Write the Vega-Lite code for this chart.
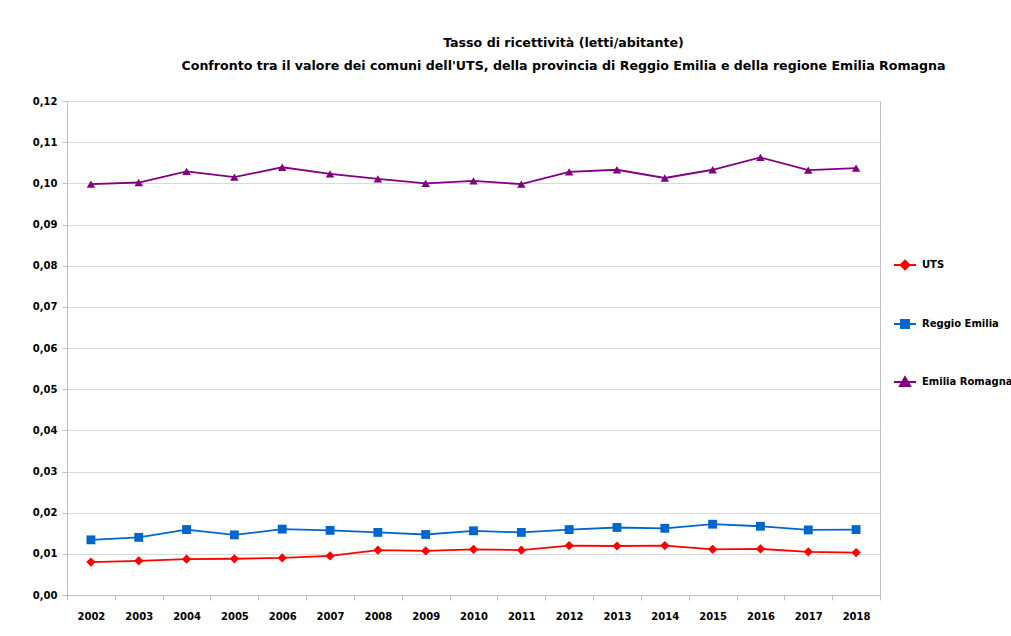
{
  "$schema": "https://vega.github.io/schema/vega-lite/v6.json",
  "autosize": {"type": "none"},
  "width": 813,
  "height": 494,
  "padding": {"left": 67, "top": 101, "right": 131, "bottom": 41},
  "background": "white",
  "config": {
    "font": "DejaVu Sans",
    "view": {"stroke": "#bfbfbf", "strokeWidth": 1},
    "legend": {
      "orient": "none",
      "legendX": 826,
      "legendY": 152,
      "labelFont": "DejaVu Sans",
      "labelFontSize": 10,
      "labelFontWeight": "bold",
      "labelColor": "#000000",
      "labelOffset": 5,
      "symbolSize": 484,
      "symbolStrokeWidth": 2,
      "rowPadding": 38
    }
  },
  "title": {
    "text": ["Tasso di ricettività (letti/abitante)", "Confronto tra il valore dei comuni dell'UTS, della provincia di Reggio Emilia e della regione Emilia Romagna"],
    "font": "DejaVu Sans",
    "fontSize": 12.6,
    "fontWeight": "bold",
    "color": "#000000",
    "anchor": "middle",
    "frame": "group",
    "dx": 90,
    "offset": 23,
    "lineHeight": 23
  },
  "data": {
    "values": [
      {"year": "2002", "serie": "UTS", "value": 0.0080},
      {"year": "2003", "serie": "UTS", "value": 0.0083},
      {"year": "2004", "serie": "UTS", "value": 0.0087},
      {"year": "2005", "serie": "UTS", "value": 0.0088},
      {"year": "2006", "serie": "UTS", "value": 0.0090},
      {"year": "2007", "serie": "UTS", "value": 0.0095},
      {"year": "2008", "serie": "UTS", "value": 0.0109},
      {"year": "2009", "serie": "UTS", "value": 0.0107},
      {"year": "2010", "serie": "UTS", "value": 0.0111},
      {"year": "2011", "serie": "UTS", "value": 0.0109},
      {"year": "2012", "serie": "UTS", "value": 0.0120},
      {"year": "2013", "serie": "UTS", "value": 0.0119},
      {"year": "2014", "serie": "UTS", "value": 0.0120},
      {"year": "2015", "serie": "UTS", "value": 0.0111},
      {"year": "2016", "serie": "UTS", "value": 0.0112},
      {"year": "2017", "serie": "UTS", "value": 0.0105},
      {"year": "2018", "serie": "UTS", "value": 0.0103},
      {"year": "2002", "serie": "Reggio Emilia", "value": 0.0134},
      {"year": "2003", "serie": "Reggio Emilia", "value": 0.0140},
      {"year": "2004", "serie": "Reggio Emilia", "value": 0.0159},
      {"year": "2005", "serie": "Reggio Emilia", "value": 0.0146},
      {"year": "2006", "serie": "Reggio Emilia", "value": 0.0160},
      {"year": "2007", "serie": "Reggio Emilia", "value": 0.0157},
      {"year": "2008", "serie": "Reggio Emilia", "value": 0.0152},
      {"year": "2009", "serie": "Reggio Emilia", "value": 0.0147},
      {"year": "2010", "serie": "Reggio Emilia", "value": 0.0156},
      {"year": "2011", "serie": "Reggio Emilia", "value": 0.0152},
      {"year": "2012", "serie": "Reggio Emilia", "value": 0.0159},
      {"year": "2013", "serie": "Reggio Emilia", "value": 0.0164},
      {"year": "2014", "serie": "Reggio Emilia", "value": 0.0162},
      {"year": "2015", "serie": "Reggio Emilia", "value": 0.0172},
      {"year": "2016", "serie": "Reggio Emilia", "value": 0.0167},
      {"year": "2017", "serie": "Reggio Emilia", "value": 0.0158},
      {"year": "2018", "serie": "Reggio Emilia", "value": 0.0159},
      {"year": "2002", "serie": "Emilia Romagna", "value": 0.0998},
      {"year": "2003", "serie": "Emilia Romagna", "value": 0.1002},
      {"year": "2004", "serie": "Emilia Romagna", "value": 0.1029},
      {"year": "2005", "serie": "Emilia Romagna", "value": 0.1015},
      {"year": "2006", "serie": "Emilia Romagna", "value": 0.1039},
      {"year": "2007", "serie": "Emilia Romagna", "value": 0.1023},
      {"year": "2008", "serie": "Emilia Romagna", "value": 0.1011},
      {"year": "2009", "serie": "Emilia Romagna", "value": 0.1000},
      {"year": "2010", "serie": "Emilia Romagna", "value": 0.1006},
      {"year": "2011", "serie": "Emilia Romagna", "value": 0.0998},
      {"year": "2012", "serie": "Emilia Romagna", "value": 0.1028},
      {"year": "2013", "serie": "Emilia Romagna", "value": 0.1033},
      {"year": "2014", "serie": "Emilia Romagna", "value": 0.1013},
      {"year": "2015", "serie": "Emilia Romagna", "value": 0.1033},
      {"year": "2016", "serie": "Emilia Romagna", "value": 0.1063},
      {"year": "2017", "serie": "Emilia Romagna", "value": 0.1032},
      {"year": "2018", "serie": "Emilia Romagna", "value": 0.1037}
    ]
  },
  "encoding": {
    "x": {
      "field": "year",
      "type": "ordinal",
      "scale": {"type": "band", "paddingInner": 0, "paddingOuter": 0},
      "axis": {
        "title": null,
        "labelAngle": 0,
        "labelFont": "DejaVu Sans",
        "labelFontSize": 10,
        "labelFontWeight": "bold",
        "labelColor": "#000000",
        "labelPadding": 11,
        "tickBand": "extent",
        "tickSize": 5,
        "tickColor": "#bfbfbf",
        "domainColor": "#bfbfbf",
        "grid": false
      }
    },
    "y": {
      "field": "value",
      "type": "quantitative",
      "scale": {"domain": [0, 0.12], "nice": false},
      "axis": {
        "title": null,
        "values": [0, 0.01, 0.02, 0.03, 0.04, 0.05, 0.06, 0.07, 0.08, 0.09, 0.1, 0.11, 0.12],
        "labelExpr": "replace(format(datum.value, '.2f'), '.', ',')",
        "labelFont": "DejaVu Sans",
        "labelFontSize": 10,
        "labelFontWeight": "bold",
        "labelColor": "#000000",
        "labelPadding": 5,
        "tickSize": 5,
        "tickColor": "#bfbfbf",
        "domainColor": "#bfbfbf",
        "gridColor": "#d9d9d9",
        "gridWidth": 1
      }
    }
  },
  "layer": [
    {
      "mark": {"type": "line", "strokeWidth": 1.8},
      "encoding": {
        "color": {
          "field": "serie",
          "type": "nominal",
          "scale": {"domain": ["UTS", "Reggio Emilia", "Emilia Romagna"], "range": ["#ff0000", "#0066cc", "#800080"]},
          "legend": null
        }
      }
    },
    {
      "mark": {"type": "point", "filled": true, "opacity": 1},
      "encoding": {
        "color": {
          "field": "serie",
          "type": "nominal",
          "scale": {"domain": ["UTS", "Reggio Emilia", "Emilia Romagna"], "range": ["#ff0000", "#0066cc", "#800080"]},
          "legend": null
        },
        "shape": {
          "field": "serie",
          "type": "nominal",
          "scale": {"domain": ["UTS", "Reggio Emilia", "Emilia Romagna"], "range": ["diamond", "square", "triangle-up"]},
          "legend": null
        },
        "size": {
          "field": "serie",
          "type": "nominal",
          "scale": {"domain": ["UTS", "Reggio Emilia", "Emilia Romagna"], "range": [85, 72, 95]},
          "legend": null
        }
      }
    },
    {
      "transform": [{"filter": "false"}],
      "mark": {"type": "point", "filled": true, "opacity": 1, "strokeWidth": 2, "size": 484},
      "encoding": {
        "color": {
          "field": "serie",
          "type": "nominal",
          "scale": {"domain": ["UTS", "Reggio Emilia", "Emilia Romagna"], "range": ["#ff0000", "#0066cc", "#800080"]},
          "legend": {"title": null, "orient": "none", "legendX": 826, "legendY": 152}
        },
        "stroke": {
          "field": "serie",
          "type": "nominal",
          "scale": {"domain": ["UTS", "Reggio Emilia", "Emilia Romagna"], "range": ["#ff0000", "#0066cc", "#800080"]},
          "legend": {"title": null, "orient": "none", "legendX": 826, "legendY": 152}
        },
        "shape": {
          "field": "serie",
          "type": "nominal",
          "scale": {"domain": ["UTS", "Reggio Emilia", "Emilia Romagna"], "range": ["M-1,0H1M0,-0.4L0.4,0L0,0.4L-0.4,0Z", "M-1,0H1M-0.36,-0.36H0.36V0.36H-0.36Z", "M-1,0H1M0,-0.44L0.46,0.36L-0.46,0.36Z"]},
          "legend": {"title": null, "orient": "none", "legendX": 826, "legendY": 152}
        }
      }
    }
  ],
  "resolve": {"scale": {"color": "independent", "shape": "independent", "stroke": "independent", "size": "independent"}}
}
